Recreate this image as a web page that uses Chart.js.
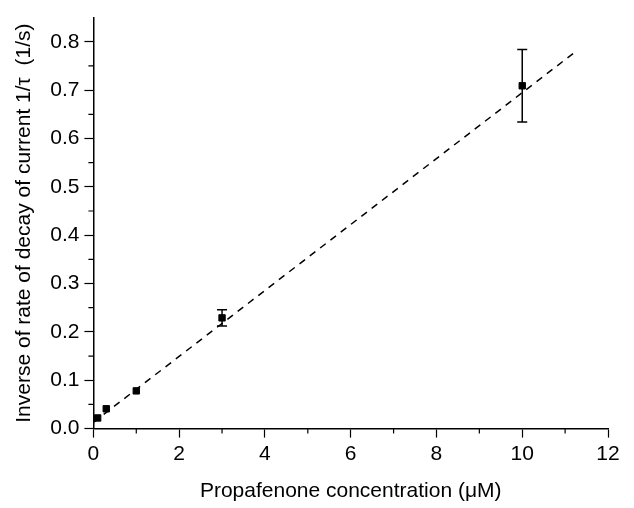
<!DOCTYPE html>
<html>
<head>
<meta charset="utf-8">
<script src="https://cdn.jsdelivr.net/npm/chart.js@4.4.0/dist/chart.umd.min.js"></script>
<style>
  html, body { margin: 0; padding: 0; background: #fff; }
  #wrap { width: 634px; height: 508px; }
</style>
</head>
<body>
<div id="wrap"><canvas id="chart" width="634" height="508"></canvas></div>
<script>
// measured points
const concentration = [0.1, 0.3, 1, 3, 10];
const decayRate = [0.022, 0.041, 0.078, 0.229, 0.709];
const rateError = [0.005, 0.004, 0.004, 0.017, 0.075];

// linear fit
const fitX = [0, 11.25];
const fitY = [0.013, 0.780];

const xTicks = [0, 2, 4, 6, 8, 10, 12];
const yTicks = [0, 0.1, 0.2, 0.3, 0.4, 0.5, 0.6, 0.7, 0.8];
const xMinorTicks = [1, 3, 5, 7, 9, 11];
const yMinorTicks = [0.05, 0.15, 0.25, 0.35, 0.45, 0.55, 0.65, 0.75];

const font = 'Liberation Sans, Arial, sans-serif';

// error bars + minor ticks
const extras = {
    id: 'extras',
    afterDatasetsDraw(chart) {
        const ctx = chart.ctx;
        const xs = chart.scales.x, ys = chart.scales.y;
        ctx.save();
        ctx.strokeStyle = '#000';
        ctx.lineWidth = 1.5;
        concentration.forEach((c, i) => {
            if (rateError[i] < 0.01) return;
            const px = xs.getPixelForValue(c);
            const top = ys.getPixelForValue(decayRate[i] + rateError[i]);
            const bot = ys.getPixelForValue(decayRate[i] - rateError[i]);
            ctx.beginPath();
            ctx.moveTo(px, top); ctx.lineTo(px, bot);
            ctx.moveTo(px - 5, top); ctx.lineTo(px + 5, top);
            ctx.moveTo(px - 5, bot); ctx.lineTo(px + 5, bot);
            ctx.stroke();
        });
        ctx.lineWidth = 1.2;
        ctx.beginPath();
        xMinorTicks.forEach(v => {
            const px = xs.getPixelForValue(v);
            ctx.moveTo(px, ys.bottom); ctx.lineTo(px, ys.bottom + 5);
        });
        yMinorTicks.forEach(v => {
            const py = ys.getPixelForValue(v);
            ctx.moveTo(xs.left, py); ctx.lineTo(xs.left - 5, py);
        });
        ctx.stroke();
        ctx.restore();
    }
};

new Chart(document.getElementById('chart').getContext('2d'), {
    type: 'scatter',
    data: {
        datasets: [{
            label: 'fit',
            type: 'line',
            data: fitX.map((x, i) => ({ x: x, y: fitY[i] })),
            borderColor: '#000',
            borderWidth: 1.5,
            borderDash: [7, 6],
            pointRadius: 0,
            fill: false
        }, {
            label: 'data',
            data: concentration.map((x, i) => ({ x: x, y: decayRate[i] })),
            pointStyle: 'rect',
            pointRadius: 4.5,
            backgroundColor: '#000',
            borderColor: '#000'
        }]
    },
    plugins: [extras],
    options: {
        responsive: false,
        animation: false,
        layout: { padding: { top: 1, right: 26, left: 8, bottom: 0 } },
        plugins: { legend: { display: false }, tooltip: { enabled: false } },
        scales: {
            x: {
                type: 'linear',
                min: 0, max: 12,
                afterBuildTicks: s => { s.ticks = xTicks.map(v => ({ value: v })); },
                border: { color: '#000', width: 1.5 },
                grid: { drawOnChartArea: false, tickLength: 9, tickColor: '#000', tickWidth: 1.2 },
                ticks: { color: '#000', font: { family: font, size: 21 }, padding: 4, maxRotation: 0 },
                title: { display: true, text: 'Propafenone concentration (\u03bcM)', color: '#000',
                         font: { family: font, size: 21 }, padding: { top: 8 } }
            },
            y: {
                type: 'linear',
                min: 0, max: 0.85,
                afterBuildTicks: s => { s.ticks = yTicks.map(v => ({ value: v })); },
                border: { color: '#000', width: 1.5 },
                grid: { drawOnChartArea: false, tickLength: 9, tickColor: '#000', tickWidth: 1.2 },
                ticks: { color: '#000', font: { family: font, size: 21 }, padding: 5,
                         callback: v => v.toFixed(1) },
                title: { display: true, text: 'Inverse of rate of decay of current 1/\u03c4  (1/s)', color: '#000',
                         font: { family: font, size: 21 }, padding: { bottom: 8 } }
            }
        }
    }
});
</script>
</body>
</html>
